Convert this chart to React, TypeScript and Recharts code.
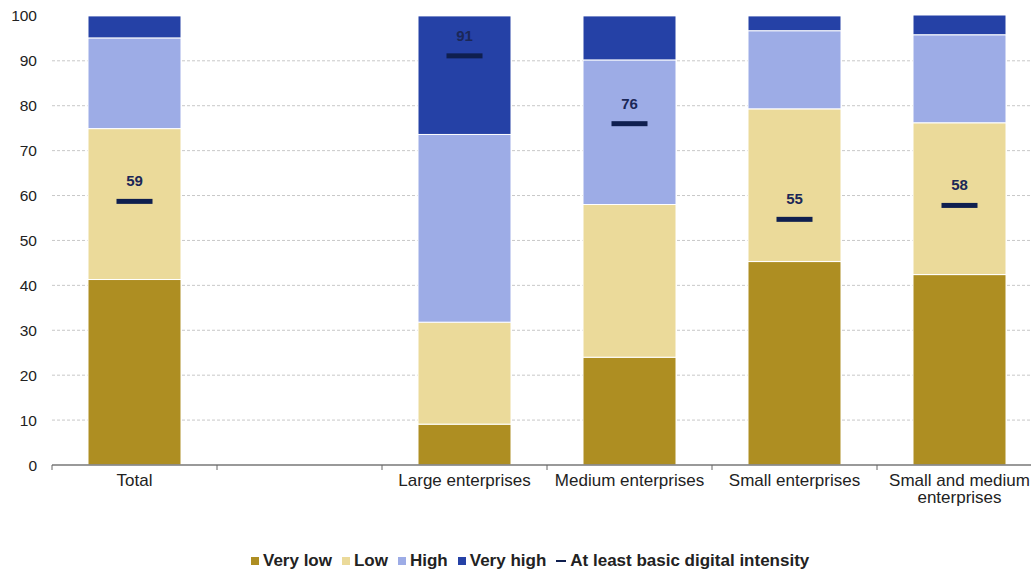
import { ComposedChart, Bar, Line, XAxis, YAxis, CartesianGrid, Text } from 'recharts';

const categories = ['Total', '', 'Large enterprises', 'Medium enterprises', 'Small enterprises', 'Small and medium enterprises'];
const veryLow = [41.3, null, 9.1, 24.0, 45.3, 42.4];
const low = [33.6, null, 22.7, 34.0, 34.0, 33.8];
const high = [20.2, null, 41.8, 32.2, 17.4, 19.6];
const veryHigh = [4.9, null, 26.4, 9.8, 3.3, 4.4];
const basicIntensity = [58.7, null, 91.1, 76.0, 54.7, 57.8];
const basicLabels = ['59', null, '91', '76', '55', '58'];
const yTicks = [0, 10, 20, 30, 40, 50, 60, 70, 80, 90, 100];
const gridValues = [10, 20, 30, 40, 50, 60, 70, 80, 90];

const COLORS = {
  veryLow: '#AE8E22',
  low: '#EBDA9A',
  high: '#9DACE6',
  veryHigh: '#2541A6',
  marker: '#0F1F4F',
};

const FONT = '"Liberation Sans", Arial, sans-serif';

const data = categories.map((name, i) => ({
  name,
  veryLow: veryLow[i],
  low: low[i],
  high: high[i],
  veryHigh: veryHigh[i],
  basic: basicIntensity[i],
  label: basicLabels[i],
}));

function CategoryTick(props: any) {
  const { x, y, payload } = props;
  const half = payload.offset || 82.5;
  return (
    <g>
      <line x1={x - half} y1={y - 8} x2={x - half} y2={y - 3} stroke="#666" strokeWidth={1} />
      <Text
        x={x}
        y={y + 1}
        width={160}
        lineHeight={17}
        textAnchor="middle"
        verticalAnchor="start"
        fontSize={17}
        fontFamily={FONT}
        fill="#222"
      >
        {payload.value}
      </Text>
    </g>
  );
}

function MarkerDot(props: any) {
  const { cx, cy, payload } = props;
  if (cx == null || cy == null || payload.basic == null) return null;
  return (
    <g>
      <rect x={cx - 18} y={cy - 2.5} width={36} height={5} fill={COLORS.marker} />
      <text
        x={cx}
        y={cy - 15}
        textAnchor="middle"
        fontSize={15}
        fontWeight="bold"
        fontFamily={FONT}
        fill="#1B2757"
      >
        {payload.label}
      </text>
    </g>
  );
}

const legendItems = [
  { label: 'Very low', color: COLORS.veryLow, kind: 'square' },
  { label: 'Low', color: COLORS.low, kind: 'square' },
  { label: 'High', color: COLORS.high, kind: 'square' },
  { label: 'Very high', color: COLORS.veryHigh, kind: 'square' },
  { label: 'At least basic digital intensity', color: COLORS.marker, kind: 'dash' },
];

export default function App() {
  return (
    <div style={{ position: 'absolute', left: 0, top: 0, width: 1031, height: 571, overflow: 'hidden', background: '#fff' }}>
      <ComposedChart
        width={1050}
        height={571}
        data={data}
        margin={{ top: 15, right: 8, left: 0, bottom: 66 }}
        barCategoryGap={0}
      >
        <CartesianGrid vertical={false} stroke="#c8c8c8" strokeDasharray="3 2" horizontalValues={gridValues} />
        <XAxis
          dataKey="name"
          interval={0}
          height={40}
          axisLine={{ stroke: '#777', strokeWidth: 1.5 }}
          tickLine={false}
          tick={<CategoryTick />}
        />
        <YAxis
          domain={[0, 100]}
          ticks={yTicks}
          width={52}
          axisLine={false}
          tickLine={false}
          tick={{ fontSize: 15.5, fontFamily: FONT, fill: '#222', dx: -7 }}
        />
        <Bar dataKey="veryLow" stackId="a" fill={COLORS.veryLow} stroke="#fff" strokeWidth={1} barSize={93} isAnimationActive={false} />
        <Bar dataKey="low" stackId="a" fill={COLORS.low} stroke="#fff" strokeWidth={1} barSize={93} isAnimationActive={false} />
        <Bar dataKey="high" stackId="a" fill={COLORS.high} stroke="#fff" strokeWidth={1} barSize={93} isAnimationActive={false} />
        <Bar dataKey="veryHigh" stackId="a" fill={COLORS.veryHigh} stroke="#fff" strokeWidth={1} barSize={93} isAnimationActive={false} />
        <Line
          dataKey="basic"
          stroke="none"
          dot={<MarkerDot />}
          activeDot={false}
          connectNulls={false}
          isAnimationActive={false}
        />
      </ComposedChart>
      <div
        style={{
          position: 'absolute',
          top: 551,
          left: 251,
          display: 'flex',
          alignItems: 'center',
          gap: 10,
          fontFamily: FONT,
          fontWeight: 'bold',
          fontSize: 17,
          color: '#222',
          whiteSpace: 'nowrap',
        }}
      >
        {legendItems.map((it) => (
          <div key={it.label} style={{ display: 'flex', alignItems: 'center', gap: 4 }}>
            {it.kind === 'square' ? (
              <span style={{ display: 'inline-block', width: 8, height: 8, background: it.color }} />
            ) : (
              <span style={{ display: 'inline-block', width: 10, height: 2, background: it.color }} />
            )}
            <span>{it.label}</span>
          </div>
        ))}
      </div>
    </div>
  );
}
